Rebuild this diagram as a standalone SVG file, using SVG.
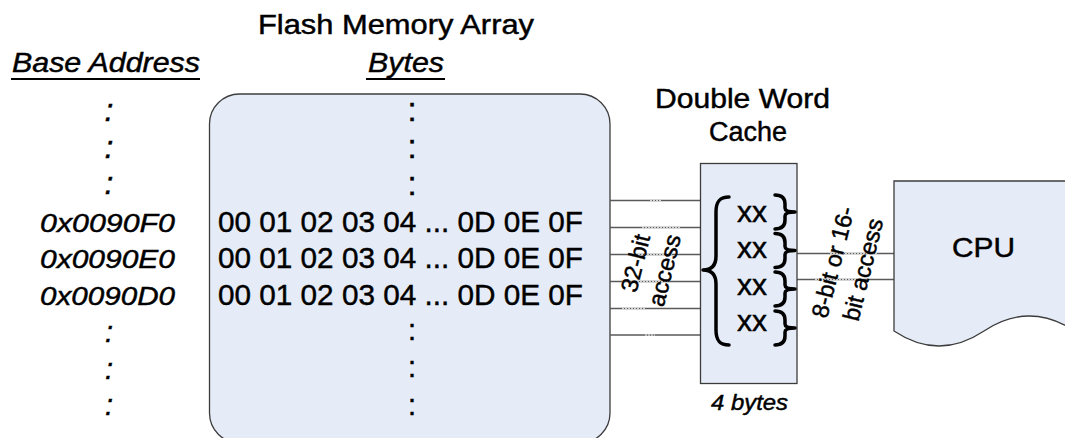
<svg xmlns="http://www.w3.org/2000/svg" width="1065" height="438" viewBox="0 0 1065 438">
  <style>
    .t { font-family: "Liberation Sans", Arial, sans-serif; fill: #000; stroke: #000; stroke-width: 0.45; }
    .i { font-style: italic; }
    .ul { stroke: #000; stroke-width: 1.8; }
    .box { fill: #E5ECF7; stroke: #3c3c3c; stroke-width: 1.3; }
    .wire { stroke: #5a5a5a; stroke-width: 1.5; fill: none; }
    .wirelight { stroke: #d2d2d2; stroke-width: 1.5; stroke-dasharray: 2 1; fill: none; }
    .brace { fill: none; stroke: #000; stroke-width: 3.5; stroke-linecap: round; stroke-linejoin: round; }
  </style>
  <defs>
    <path id="rbrace" d="M -10 -17 C -3 -17 0 -14 0 -8 L 0 -4 C 0 -1 3 0 10 0 C 3 0 0 1 0 4 L 0 8 C 0 14 -3 17 -10 17"/>
  </defs>
  <rect width="1065" height="438" fill="#fff"/>

  <!-- headers -->
  <g id="headers">
    <text class="t" x="258" y="34" font-size="27" textLength="276" lengthAdjust="spacingAndGlyphs">Flash Memory Array</text>
    <text class="t i" x="12" y="72" font-size="27" textLength="188" lengthAdjust="spacingAndGlyphs">Base Address</text>
    <line class="ul" x1="11" y1="79" x2="200" y2="79"/>
    <text class="t i" x="368" y="72" font-size="27" textLength="76" lengthAdjust="spacingAndGlyphs">Bytes</text>
    <line class="ul" x1="366" y1="79" x2="445" y2="79"/>
  </g>

  <!-- base address column -->
  <g id="addresses">
    <text class="t i" x="109" y="121" font-size="32" text-anchor="middle">:</text>
    <text class="t i" x="109" y="158" font-size="32" text-anchor="middle">:</text>
    <text class="t i" x="109" y="194" font-size="32" text-anchor="middle">:</text>
    <text class="t i" x="40" y="231.5" font-size="26.5" textLength="135" lengthAdjust="spacingAndGlyphs">0x0090F0</text>
    <text class="t i" x="40" y="268" font-size="26.5" textLength="135" lengthAdjust="spacingAndGlyphs">0x0090E0</text>
    <text class="t i" x="40" y="304.5" font-size="26.5" textLength="135" lengthAdjust="spacingAndGlyphs">0x0090D0</text>
    <text class="t i" x="109" y="342" font-size="29" text-anchor="middle">:</text>
    <text class="t i" x="109" y="379" font-size="29" text-anchor="middle">:</text>
    <text class="t i" x="109" y="415" font-size="29" text-anchor="middle">:</text>
  </g>

  <!-- flash memory array -->
  <g id="flash">
    <rect class="box" x="209.5" y="94" width="400.5" height="349" rx="30" ry="30"/>
    <text class="t" x="412" y="121" font-size="33" text-anchor="middle">:</text>
    <text class="t" x="412" y="158" font-size="33" text-anchor="middle">:</text>
    <text class="t" x="412" y="195" font-size="33" text-anchor="middle">:</text>
    <text class="t" x="218" y="231.5" font-size="30" textLength="365" lengthAdjust="spacingAndGlyphs">00 01 02 03 04 ... 0D 0E 0F</text>
    <text class="t" x="218" y="268" font-size="30" textLength="365" lengthAdjust="spacingAndGlyphs">00 01 02 03 04 ... 0D 0E 0F</text>
    <text class="t" x="218" y="304.5" font-size="30" textLength="365" lengthAdjust="spacingAndGlyphs">00 01 02 03 04 ... 0D 0E 0F</text>
    <text class="t" x="412" y="340" font-size="29" text-anchor="middle">:</text>
    <text class="t" x="412" y="377" font-size="29" text-anchor="middle">:</text>
    <text class="t" x="412" y="415" font-size="29" text-anchor="middle">:</text>
  </g>

  <!-- connectors -->
  <g id="connectors">
    <path class="wire" d="M610 200.5H700.5M610 227.5H700.5M610 254.5H700.5M610 281.5H700.5M610 308.5H700.5M610 335H700.5"/>
    <path class="wirelight" d="M650 200.5H662M642 227.5H680M638 254.5H672M622 281.5H668M622 308.5H646M645 335H655"/>
    <path class="wire" d="M797 253.5H894M797 279.5H894"/>
    <path class="wirelight" d="M830 253.5H878M815 279.5H862"/>
    <g transform="translate(651,267) rotate(-76)">
      <text class="t" x="0" y="-8" font-size="23.5" text-anchor="middle">32-bit</text>
      <text class="t" x="0" y="22" font-size="23.5" text-anchor="middle">access</text>
    </g>
    <g transform="translate(848.5,266) rotate(-76)">
      <text class="t" x="0" y="-8" font-size="23.5" text-anchor="middle">8-bit or 16-</text>
      <text class="t" x="0" y="23" font-size="23.5" text-anchor="middle">bit access</text>
    </g>
  </g>

  <!-- double word cache -->
  <g id="cache">
    <text class="t" x="655" y="108" font-size="27" textLength="175" lengthAdjust="spacingAndGlyphs">Double Word</text>
    <text class="t" x="709" y="141" font-size="27" textLength="78" lengthAdjust="spacingAndGlyphs">Cache</text>
    <rect class="box" x="700.5" y="163.5" width="96.5" height="220"/>
    <path class="brace" d="M 729 197 C 720 197 716 201 716 212 L 716 256 C 716 266 711 270 703 270 C 711 270 716 274 716 284 L 716 330 C 716 341 720 345 729 345"/>
    <text class="t" x="737" y="221.5" font-size="30">xx</text>
    <text class="t" x="737" y="258" font-size="30">xx</text>
    <text class="t" x="737" y="294.5" font-size="30">xx</text>
    <text class="t" x="737" y="331" font-size="30">xx</text>
    <use href="#rbrace" class="brace" transform="translate(785,212)"/>
    <use href="#rbrace" class="brace" transform="translate(785,250.5)"/>
    <use href="#rbrace" class="brace" transform="translate(785,289)"/>
    <use href="#rbrace" class="brace" transform="translate(785,328)"/>
    <text class="t i" x="711" y="410" font-size="22" textLength="77" lengthAdjust="spacingAndGlyphs">4 bytes</text>
  </g>

  <!-- CPU -->
  <g id="cpu">
    <path class="box" d="M 894 181 L 1075 181 L 1075 331 Q 1029 301 984 331 Q 939 361 894 331 Z"/>
    <text class="t" x="952" y="257" font-size="28" textLength="63" lengthAdjust="spacingAndGlyphs">CPU</text>
  </g>
</svg>
